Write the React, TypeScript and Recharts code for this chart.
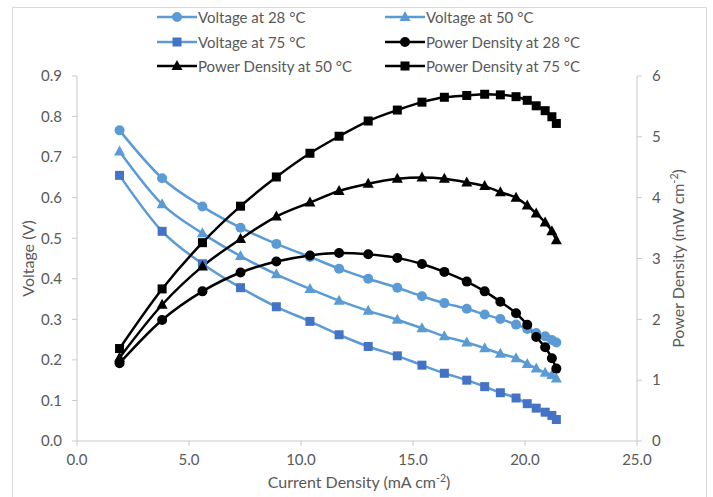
import React from "react";
import { LineChart, Line, XAxis, YAxis, Label } from "recharts";

// current density (mA cm-2), shared by all six series
const currentDensity = [1.9, 3.8, 5.6, 7.3, 8.9, 10.4, 11.7, 13.0, 14.3, 15.4, 16.4, 17.4, 18.2, 18.9, 19.6, 20.1, 20.5, 20.9, 21.2, 21.4];

// voltage (V)
const voltage28 = [0.766, 0.648, 0.578, 0.526, 0.486, 0.454, 0.425, 0.4, 0.378, 0.357, 0.34, 0.326, 0.312, 0.301, 0.287, 0.276, 0.266, 0.258, 0.249, 0.243];
const voltage50 = [0.714, 0.584, 0.512, 0.456, 0.411, 0.375, 0.346, 0.321, 0.299, 0.278, 0.258, 0.243, 0.229, 0.215, 0.204, 0.19, 0.179, 0.168, 0.163, 0.154];
const voltage75 = [0.655, 0.517, 0.437, 0.378, 0.331, 0.295, 0.262, 0.233, 0.21, 0.187, 0.167, 0.15, 0.134, 0.119, 0.106, 0.092, 0.081, 0.071, 0.063, 0.053];

// power density (mW cm-2)
const power28 = [1.28, 1.99, 2.46, 2.77, 2.95, 3.05, 3.09, 3.07, 3.01, 2.91, 2.78, 2.62, 2.46, 2.29, 2.1, 1.91, 1.71, 1.54, 1.36, 1.19];
const power50 = [1.37, 2.24, 2.87, 3.32, 3.69, 3.92, 4.11, 4.23, 4.31, 4.33, 4.31, 4.25, 4.19, 4.09, 4.0, 3.87, 3.74, 3.59, 3.45, 3.3];
const power75 = [1.52, 2.5, 3.26, 3.86, 4.34, 4.73, 5.01, 5.26, 5.44, 5.57, 5.65, 5.68, 5.7, 5.69, 5.66, 5.6, 5.51, 5.43, 5.33, 5.22];

const xTicks = [0, 5, 10, 15, 20, 25];
const voltageTicks = [0, 0.1, 0.2, 0.3, 0.4, 0.5, 0.6, 0.7, 0.8, 0.9];
const powerTicks = [0, 1, 2, 3, 4, 5, 6];

const data = currentDensity.map((i, k) => ({
  i,
  v28: voltage28[k],
  v50: voltage50[k],
  v75: voltage75[k],
  p28: power28[k],
  p50: power50[k],
  p75: power75[k],
}));

const LIGHT_BLUE = "#5B9BD5";
const DARK_BLUE = "#4472C4";
const AXIS = "#c9c9c9";
const TEXT = "#595959";
const FONT = "Lato, 'Open Sans', sans-serif";

type Shape = "circle" | "triangle" | "square";

const series: { key: string; name: string; axis: string; line: string; marker: string; shape: Shape }[] = [
  { key: "v28", name: "Voltage at 28 °C", axis: "v", line: LIGHT_BLUE, marker: LIGHT_BLUE, shape: "circle" },
  { key: "v50", name: "Voltage at 50 °C", axis: "v", line: LIGHT_BLUE, marker: LIGHT_BLUE, shape: "triangle" },
  { key: "v75", name: "Voltage at 75 °C", axis: "v", line: LIGHT_BLUE, marker: DARK_BLUE, shape: "square" },
  { key: "p28", name: "Power Density at 28 °C", axis: "p", line: "#000", marker: "#000", shape: "circle" },
  { key: "p50", name: "Power Density at 50 °C", axis: "p", line: "#000", marker: "#000", shape: "triangle" },
  { key: "p75", name: "Power Density at 75 °C", axis: "p", line: "#000", marker: "#000", shape: "square" },
];

function marker(shape: Shape, color: string, cx: number, cy: number, key?: string | number) {
  if (shape === "circle") return <circle key={key} cx={cx} cy={cy} r={5} fill={color} />;
  if (shape === "square") return <rect key={key} x={cx - 4.5} y={cy - 4.5} width={9} height={9} fill={color} />;
  return <polygon key={key} points={`${cx},${cy - 6} ${cx - 5.5},${cy + 4} ${cx + 5.5},${cy + 4}`} fill={color} />;
}

const makeDot = (shape: Shape, color: string) => (props: any) =>
  marker(shape, color, props.cx, props.cy, `${props.dataKey}-${props.index}`);

function LegendBox() {
  return (
    <div style={{ position: "absolute", left: 0, top: 0, width: 713, height: 80, fontFamily: FONT, fontSize: 15, color: TEXT }}>
      {series.map((s, k) => {
        const col = k % 2;
        const row = Math.floor(k / 2);
        const left = col === 0 ? 157 : 385;
        const top = 17 + row * 24.5;
        return (
          <div key={s.key} style={{ position: "absolute", left, top: top - 10, height: 20, display: "flex", alignItems: "center", whiteSpace: "nowrap" }}>
            <svg width={40} height={20}>
              <line x1={0} y1={10} x2={40} y2={10} stroke={s.line} strokeWidth={2.5} />
              {marker(s.shape, s.marker, 20, 10)}
            </svg>
            <span style={{ marginLeft: 1 }}>{s.name}</span>
          </div>
        );
      })}
    </div>
  );
}

const axisTitle = (kind: "x" | "left" | "right") => (props: any) => {
  const vb = props.viewBox;
  const style = { fontFamily: FONT, fontSize: 16, fill: TEXT };
  if (kind === "x") {
    return (
      <text x={vb.x + vb.width / 2 + 2} y={488} textAnchor="middle" style={style}>
        Current Density (mA cm<tspan dy={-6} fontSize={10.5}>-2</tspan><tspan dy={6}>)</tspan>
      </text>
    );
  }
  const cy = vb.y + vb.height / 2;
  if (kind === "left") {
    return (
      <text x={34} y={cy} transform={`rotate(-90 34 ${cy})`} textAnchor="middle" style={style}>
        Voltage (V)
      </text>
    );
  }
  return (
    <text x={684} y={cy} transform={`rotate(-90 684 ${cy})`} textAnchor="middle" style={style}>
      Power Density (mW cm<tspan dy={-6} fontSize={10.5}>-2</tspan><tspan dy={6}>)</tspan>
    </text>
  );
};

const tickStyle = { fontFamily: FONT, fontSize: 15, fill: TEXT };

export default function App() {
  return (
    <div style={{ position: "absolute", left: 0, top: 0, width: 713, height: 497, background: "#fff", overflow: "hidden" }}>
      <div style={{ position: "absolute", left: 12, top: 7, width: 693, height: 520, border: "1px solid #d9d9d9" }} />
      <LegendBox />
      <div style={{ position: "absolute", left: 0, top: 0 }}>
        <LineChart width={713} height={497} data={data} margin={{ top: 76, right: 16, bottom: 26, left: 17 }}>
          <XAxis
            dataKey="i"
            type="number"
            domain={[0, 25]}
            ticks={xTicks}
            tickFormatter={(v: number) => v.toFixed(1)}
            stroke={AXIS}
            tickSize={5}
            tickMargin={8}
            height={30}
            tick={tickStyle}
          >
            <Label content={axisTitle("x")} />
          </XAxis>
          <YAxis
            yAxisId="v"
            orientation="left"
            domain={[0, 0.9]}
            ticks={voltageTicks}
            tickFormatter={(v: number) => v.toFixed(1)}
            stroke={AXIS}
            tickSize={5}
            tickMargin={10}
            width={60}
            tick={tickStyle}
          >
            <Label content={axisTitle("left")} />
          </YAxis>
          <YAxis
            yAxisId="p"
            orientation="right"
            domain={[0, 6]}
            ticks={powerTicks}
            stroke={AXIS}
            tickSize={5}
            tickMargin={10}
            width={60}
            tick={tickStyle}
          >
            <Label content={axisTitle("right")} />
          </YAxis>
          {series.map((s) => (
            <Line
              key={s.key}
              yAxisId={s.axis}
              dataKey={s.key}
              name={s.name}
              type="monotone"
              stroke={s.line}
              strokeWidth={2.5}
              dot={makeDot(s.shape, s.marker)}
              activeDot={false}
              isAnimationActive={false}
            />
          ))}
        </LineChart>
      </div>
    </div>
  );
}
